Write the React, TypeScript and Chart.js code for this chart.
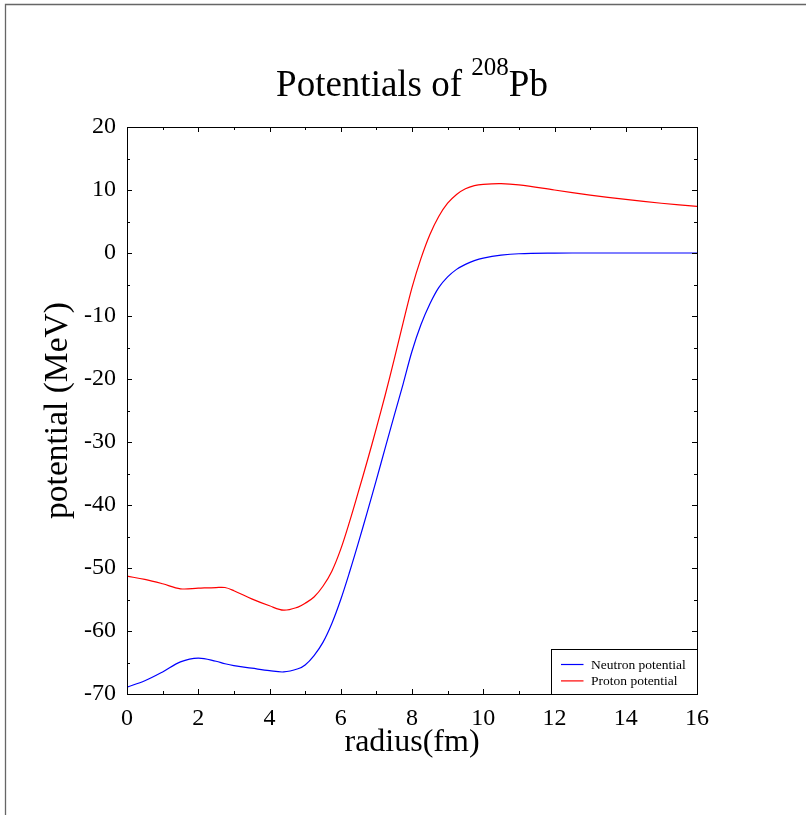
import { useEffect, useRef } from "react";
import { Chart, registerables } from "chart.js";

Chart.register(...registerables);

// Mean-field potentials of 208Pb, sampled in radius (fm)
const radius = [
  0, 0.5, 1, 1.5, 2, 2.5, 2.75, 3, 3.5, 4, 4.4, 4.8, 5, 5.25, 5.5, 5.75, 6, 6.25, 6.5, 6.75, 7,
  7.25, 7.5, 7.75, 8, 8.25, 8.5, 8.75, 9, 9.25, 9.5, 9.75, 10, 10.5, 11, 12, 13, 14, 15, 16,
];

const neutronPotential = [
  -68.9, -67.9, -66.5, -64.9, -64.3, -64.8, -65.2, -65.5, -65.9, -66.3, -66.5, -66.0, -65.4,
  -63.9, -61.8, -58.8, -55.0, -50.6, -45.9, -41.0, -36.0, -30.9, -25.8, -20.8, -15.6, -11.4,
  -8.1, -5.5, -3.8, -2.6, -1.8, -1.2, -0.8, -0.35, -0.12, -0.02, 0, 0, 0, 0,
];

const protonPotential = [
  -51.3, -51.8, -52.5, -53.3, -53.2, -53.1, -53.1, -53.6, -54.9, -56.0, -56.7, -56.2, -55.6,
  -54.6, -52.9, -50.5, -47.0, -42.6, -37.8, -32.9, -27.8, -22.5, -16.9, -11.1, -5.5, -0.9,
  2.9, 5.8, 7.9, 9.3, 10.2, 10.7, 10.9, 11.0, 10.8, 10.0, 9.2, 8.5, 7.9, 7.4,
];

const seriesLabels = ["Neutron potential", "Proton potential"];
const seriesColors = ["#0000ff", "#ff0000"];

const xTickValues = [0, 2, 4, 6, 8, 10, 12, 14, 16];
const yTickValues = [-70, -60, -50, -40, -30, -20, -10, 0, 10, 20];

const titleMain = "Potentials of ";
const titleSup = "208";
const titleTail = "Pb";
const xAxisTitle = "radius(fm)";
const yAxisTitle = "potential (MeV)";

const SERIF = "'Liberation Serif', 'Times New Roman', serif";

function minorTicks(values: number[]): number[] {
  const out: number[] = [];
  for (let i = 0; i < values.length - 1; i++) out.push((values[i] + values[i + 1]) / 2);
  return out;
}

// Page frame, inward ticks on all four sides, superscripted title and boxed legend
const decorPlugin = {
  id: "decor",
  afterDraw(chart: any) {
    const { ctx, chartArea: a, scales } = chart;
    const sx = scales.x;
    const sy = scales.y;
    ctx.save();

    // outer page frame
    ctx.strokeStyle = "#666";
    ctx.lineWidth = 1.3;
    ctx.beginPath();
    ctx.moveTo(5.5, chart.height);
    ctx.lineTo(5.5, 4.5);
    ctx.lineTo(chart.width, 4.5);
    ctx.stroke();

    // plot border
    ctx.strokeStyle = "#000";
    ctx.lineWidth = 1;
    ctx.strokeRect(a.left + 0.5, a.top + 0.5, a.right - a.left, a.bottom - a.top);

    // inward ticks
    const tick = (len: number, xs: number[], ys: number[]) => {
      ctx.beginPath();
      for (const v of xs) {
        const p = Math.round(sx.getPixelForValue(v)) + 0.5;
        ctx.moveTo(p, a.bottom);
        ctx.lineTo(p, a.bottom - len);
        ctx.moveTo(p, a.top);
        ctx.lineTo(p, a.top + len);
      }
      for (const v of ys) {
        const p = Math.round(sy.getPixelForValue(v)) + 0.5;
        ctx.moveTo(a.left, p);
        ctx.lineTo(a.left + len, p);
        ctx.moveTo(a.right, p);
        ctx.lineTo(a.right - len, p);
      }
      ctx.stroke();
    };
    tick(5, xTickValues, yTickValues);
    tick(3, minorTicks(xTickValues), minorTicks(yTickValues));

    // title with superscript mass number
    ctx.fillStyle = "#000";
    ctx.textAlign = "left";
    ctx.textBaseline = "alphabetic";
    const big = `37px ${SERIF}`;
    const small = `25px ${SERIF}`;
    ctx.font = big;
    const w1 = ctx.measureText(titleMain).width;
    const w3 = ctx.measureText(titleTail).width;
    ctx.font = small;
    const w2 = ctx.measureText(titleSup).width;
    const cx = (a.left + a.right) / 2;
    let tx = cx - (w1 + w2 + w3) / 2;
    const base = a.top - 31;
    ctx.font = big;
    ctx.fillText(titleMain, tx, base);
    tx += w1;
    ctx.font = small;
    ctx.fillText(titleSup, tx, base - 21);
    tx += w2;
    ctx.font = big;
    ctx.fillText(titleTail, tx, base);

    // legend box in the lower right corner of the plot
    const lw = 146;
    const lh = 45;
    const lx = a.right - lw;
    const ly = a.bottom - lh;
    ctx.fillStyle = "#fff";
    ctx.fillRect(lx, ly, lw, lh);
    ctx.strokeStyle = "#000";
    ctx.lineWidth = 1;
    ctx.strokeRect(lx + 0.5, ly + 0.5, lw, lh);
    ctx.font = `13.5px ${SERIF}`;
    ctx.textBaseline = "middle";
    chart.data.datasets.forEach((ds: any, i: number) => {
      const yy = ly + 15.5 + i * 16.4;
      ctx.strokeStyle = ds.borderColor;
      ctx.lineWidth = 1.2;
      ctx.beginPath();
      ctx.moveTo(lx + 10, yy);
      ctx.lineTo(lx + 32.5, yy);
      ctx.stroke();
      ctx.fillStyle = "#000";
      ctx.fillText(ds.label, lx + 40, yy + 0.5);
    });

    ctx.restore();
  },
};

export default function App() {
  const canvasRef = useRef<HTMLCanvasElement | null>(null);

  useEffect(() => {
    if (!canvasRef.current) return;
    const toPoints = (vals: number[]) => radius.map((r, i) => ({ x: r, y: vals[i] }));
    const chart = new Chart(canvasRef.current, {
      type: "line",
      data: {
        datasets: [
          {
            label: seriesLabels[0],
            data: toPoints(neutronPotential),
            borderColor: seriesColors[0],
            borderWidth: 1.2,
            pointRadius: 0,
            tension: 0.35,
            fill: false,
          },
          {
            label: seriesLabels[1],
            data: toPoints(protonPotential),
            borderColor: seriesColors[1],
            borderWidth: 1.2,
            pointRadius: 0,
            tension: 0.35,
            fill: false,
          },
        ],
      },
      options: {
        animation: false,
        responsive: true,
        maintainAspectRatio: false,
        layout: { padding: { left: 0, top: 127, right: 109, bottom: 0 } },
        plugins: {
          legend: { display: false },
          tooltip: { enabled: false },
          title: { display: false },
        },
        scales: {
          x: {
            type: "linear",
            position: "bottom",
            min: 0,
            max: 16,
            afterBuildTicks: (s: any) => {
              s.ticks = xTickValues.map((v) => ({ value: v }));
            },
            afterFit: (s: any) => {
              s.height = 121;
            },
            grid: { display: false, drawTicks: false, tickLength: 0 },
            border: { display: false },
            ticks: {
              color: "#000",
              padding: 10.5,
              maxRotation: 0,
              font: { family: SERIF, size: 24 },
            },
            title: {
              display: true,
              text: xAxisTitle,
              color: "#000",
              font: { family: SERIF, size: 32 },
              padding: { top: 0, bottom: 53.6 },
            },
          },
          y: {
            type: "linear",
            position: "left",
            min: -70,
            max: 20,
            afterBuildTicks: (s: any) => {
              s.ticks = yTickValues.map((v) => ({ value: v }));
            },
            afterFit: (s: any) => {
              s.width = 127;
            },
            grid: { display: false, drawTicks: false, tickLength: 0 },
            border: { display: false },
            ticks: {
              color: "#000",
              padding: 11,
              font: { family: SERIF, size: 24 },
            },
            title: {
              display: true,
              text: yAxisTitle,
              color: "#000",
              font: { family: SERIF, size: 33.5 },
              padding: { top: 38.5, bottom: 0 },
            },
          },
        },
      },
      plugins: [decorPlugin],
    } as any);
    return () => chart.destroy();
  }, []);

  return (
    <div style={{ position: "fixed", left: 0, top: 0, width: 806, height: 815, background: "#fff" }}>
      <canvas ref={canvasRef} />
    </div>
  );
}
